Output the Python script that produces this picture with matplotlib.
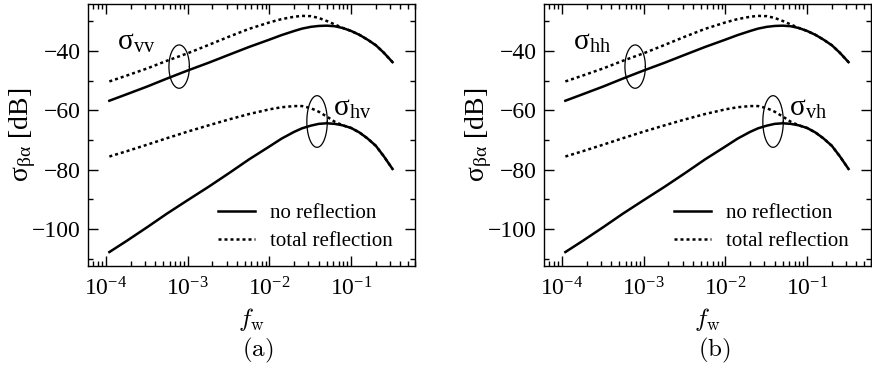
import matplotlib
matplotlib.use("Agg")
import matplotlib.pyplot as plt
import numpy as np
from matplotlib.ticker import LogLocator, MultipleLocator, NullFormatter

plt.rcParams["font.family"] = ["Liberation Serif", "DejaVu Serif"]
plt.rcParams["mathtext.fontset"] = "stix"

# fractional wave height f_w and backscatter (dB)
fw = [1.1e-4, 1.8e-4, 3.2e-4, 5.6e-4, 1.0e-3, 1.8e-3, 3.2e-3, 5.6e-3,
      1.0e-2, 1.4e-2, 2.0e-2, 2.5e-2, 3.2e-2, 4.0e-2, 5.0e-2, 6.3e-2,
      7.9e-2, 0.10, 0.126, 0.158, 0.20, 0.25, 0.32]

co_noref = [-56.8, -54.6, -52.0, -49.3, -46.6, -44.0, -41.3, -38.7,
            -36.2, -34.7, -33.3, -32.5, -31.9, -31.6, -31.5, -31.7,
            -32.3, -33.3, -34.6, -36.2, -38.1, -40.6, -43.8]
co_total = [-50.3, -48.3, -45.9, -43.3, -40.8, -38.0, -35.2, -32.6,
            -30.4, -29.3, -28.5, -28.2, -28.3, -28.9, -29.9, -31.1,
            -32.3, -33.3, -34.6, -36.2, -38.1, -40.6, -43.8]
cross_noref = [-107.8, -104.0, -99.4, -94.8, -90.3, -85.8, -81.2, -76.6,
               -72.2, -69.6, -67.3, -66.1, -65.2, -64.6, -64.4, -64.6,
               -65.1, -66.0, -67.5, -69.5, -72.0, -75.5, -79.8]
cross_total = [-75.6, -73.8, -71.6, -69.4, -67.2, -65.1, -63.1, -61.3,
               -59.7, -59.0, -58.6, -58.6, -59.3, -60.5, -62.1, -63.9,
               -65.1, -66.0, -67.5, -69.5, -72.0, -75.5, -79.8]

panels = ["a", "b"]
co_labels = ["vv", "hh"]
cross_labels = ["hv", "vh"]

fig = plt.figure(figsize=(8.72, 3.77), dpi=100)
lefts = [88 / 872, 544 / 872]
dotted = (0, (1.2, 1.2))


def ring(ax, lx, y, dlx, dy):
    # ellipse drawn in log10(x) space so it stays round on the log axis
    t = np.linspace(0, 2 * np.pi, 100)
    ax.plot(10 ** (lx + dlx * np.cos(t)), y + dy * np.sin(t),
            color="black", lw=0.9)


for i, left in enumerate(lefts):
    ax = fig.add_axes([left, 1 - 266 / 377, 327 / 872, 262 / 377])
    ax.plot(fw, co_total, color="black", lw=1.8, ls=dotted, label="total reflection")
    ax.plot(fw, cross_total, color="black", lw=1.8, ls=dotted)
    ax.plot(fw, co_noref, color="black", lw=1.8, label="no reflection")
    ax.plot(fw, cross_noref, color="black", lw=1.8)

    ring(ax, -3.105, -45.3, 0.125, 7.3)
    ring(ax, -1.418, -63.8, 0.125, 8.7)

    ax.text(10 ** -3.86, -36.9, "σ$_{\\mathregular{%s}}$" % co_labels[i],
            fontsize=21, va="center", ha="left")
    ax.text(10 ** -1.22, -59.2, "σ$_{\\mathregular{%s}}$" % cross_labels[i],
            fontsize=21, va="center", ha="left")

    ax.set_xscale("log")
    ax.set_xlim(10 ** -4.22, 10 ** -0.22)
    ax.set_ylim(-112.5, -24.2)
    ax.xaxis.set_major_locator(LogLocator(base=10, numticks=10))
    ax.xaxis.set_minor_locator(LogLocator(base=10, subs=np.arange(2, 10), numticks=20))
    ax.xaxis.set_minor_formatter(NullFormatter())
    ax.yaxis.set_major_locator(MultipleLocator(20))
    ax.yaxis.set_minor_locator(MultipleLocator(10))
    ax.tick_params(which="both", direction="in", top=True, right=True,
                   labelsize=17, width=1.0)
    ax.tick_params(which="major", length=7)
    ax.tick_params(which="minor", length=3.5)
    ax.tick_params(axis="x", which="major", pad=8)
    ax.tick_params(axis="y", which="major", pad=5)
    for s in ax.spines.values():
        s.set_linewidth(1.0)

    ax.set_ylabel("σ$_{\\mathregular{βα}}$ [dB]", fontsize=20, labelpad=-4)
    ax.set_xlabel(r"$f_\mathrm{w}$", fontsize=18, math_fontfamily="cm", labelpad=4)

    h, l = ax.get_legend_handles_labels()
    ax.legend(h[::-1], l[::-1], loc="lower right", bbox_to_anchor=(0.957, 0.024),
              frameon=False, fontsize=15, handlelength=1.8, handletextpad=0.7,
              labelspacing=0.4, borderaxespad=0)

    fig.text(left + 170 / 872, 1 - 350 / 377, r"$\mathrm{(%s)}$" % panels[i],
             fontsize=18, math_fontfamily="cm", ha="center", va="center")

fig.savefig("out.png", dpi=100)
